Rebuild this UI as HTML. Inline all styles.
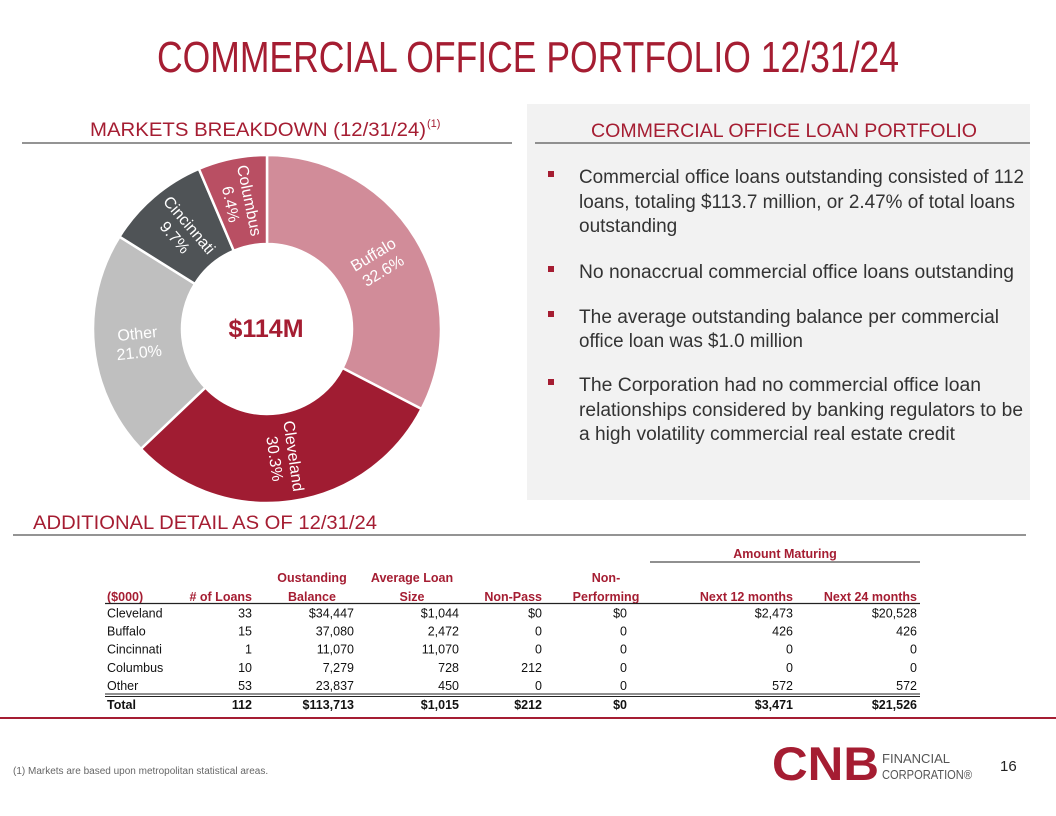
<!DOCTYPE html>
<html><head><meta charset="utf-8"><style>
html,body{margin:0;padding:0;background:#fff;}
svg{display:block;font-family:"Liberation Sans",sans-serif;}
</style></head><body>
<svg id="page" width="1056" height="816" viewBox="0 0 1056 816" xmlns="http://www.w3.org/2000/svg">
<text x="528" y="72" text-anchor="middle" font-size="44" fill="#a51d32" textLength="742" lengthAdjust="spacingAndGlyphs">COMMERCIAL OFFICE PORTFOLIO 12/31/24</text>

<rect x="527" y="104" width="503" height="396" fill="#f2f2f2"/>
<text x="90" y="136" font-size="19" fill="#a51d32" textLength="336" lengthAdjust="spacingAndGlyphs">MARKETS BREAKDOWN (12/31/24)</text>
<text x="427" y="127" font-size="11" fill="#a51d32">(1)</text>
<line x1="22" y1="143" x2="512" y2="143" stroke="#555" stroke-width="1.2"/>
<text x="591" y="137" font-size="19" fill="#a51d32" textLength="386" lengthAdjust="spacingAndGlyphs">COMMERCIAL OFFICE LOAN PORTFOLIO</text>
<line x1="535" y1="143" x2="1030" y2="143" stroke="#555" stroke-width="1.2"/>

<g font-size="19" fill="#333">
<rect x="548" y="171" width="6" height="6" fill="#a51d32"/>
<text x="579" y="183" textLength="445" lengthAdjust="spacingAndGlyphs">Commercial office loans outstanding consisted of 112</text>
<text x="579" y="208" textLength="436" lengthAdjust="spacingAndGlyphs">loans, totaling $113.7 million, or 2.47% of total loans</text>
<text x="579" y="232">outstanding</text>
<rect x="548" y="266" width="6" height="6" fill="#a51d32"/>
<text x="579" y="278" textLength="435" lengthAdjust="spacingAndGlyphs">No nonaccrual commercial office loans outstanding</text>
<rect x="548" y="311" width="6" height="6" fill="#a51d32"/>
<text x="579" y="323" textLength="420" lengthAdjust="spacingAndGlyphs">The average outstanding balance per commercial</text>
<text x="579" y="347" textLength="224" lengthAdjust="spacingAndGlyphs">office loan was $1.0 million</text>
<rect x="548" y="379" width="6" height="6" fill="#a51d32"/>
<text x="579" y="391" textLength="402" lengthAdjust="spacingAndGlyphs">The Corporation had no commercial office loan</text>
<text x="579" y="416" textLength="444" lengthAdjust="spacingAndGlyphs">relationships considered by banking regulators to be</text>
<text x="579" y="440" textLength="376" lengthAdjust="spacingAndGlyphs">a high volatility commercial real estate credit</text>
</g>

<g id="donut"></g>
<text x="266" y="337" text-anchor="middle" font-size="25" font-weight="bold" fill="#a51d32">$114M</text>

<text x="33" y="529" font-size="19" fill="#a51d32" textLength="344" lengthAdjust="spacingAndGlyphs">ADDITIONAL DETAIL AS OF 12/31/24</text>
<line x1="13" y1="535" x2="1026" y2="535" stroke="#555" stroke-width="1.2"/>

<g id="table" font-size="12.5"></g>

<line x1="0" y1="718" x2="1056" y2="718" stroke="#a51d32" stroke-width="2"/>
<text x="13" y="774" font-size="10" fill="#666">(1) Markets are based upon metropolitan statistical areas.</text>

<g>
<text x="772" y="780" font-size="47" font-weight="bold" fill="#a51d32" textLength="107" lengthAdjust="spacingAndGlyphs">CNB</text>
<text x="882" y="763" font-size="13" fill="#555" textLength="68" lengthAdjust="spacingAndGlyphs">FINANCIAL</text>
<text x="882" y="779" font-size="13" fill="#555" textLength="90" lengthAdjust="spacingAndGlyphs">CORPORATION®</text>
</g>
<text x="1000" y="771" font-size="15" fill="#222">16</text>
</svg>
<script>
const markets = ["Buffalo","Cleveland","Other","Cincinnati","Columbus"];
const shares = [32.6,30.3,21.0,9.7,6.4];
const sliceColors = ["#d18c99","#a01c32","#bfbfbf","#4f5356","#b94f63"];
const rowLabels = ["Cleveland","Buffalo","Cincinnati","Columbus","Other"];
const numLoans = ["33","15","1","10","53"];
const outBalance = ["$34,447","37,080","11,070","7,279","23,837"];
const avgSize = ["$1,044","2,472","11,070","728","450"];
const nonPass = ["$0","0","0","212","0"];
const nonPerf = ["$0","0","0","0","0"];
const next12 = ["$2,473","426","0","0","572"];
const next24 = ["$20,528","426","0","0","572"];
const totals = ["Total","112","$113,713","$1,015","$212","$0","$3,471","$21,526"];

const NS="http://www.w3.org/2000/svg";
function mk(t,a,p){const e=document.createElementNS(NS,t);for(const k in a)e.setAttribute(k,a[k]);p.appendChild(e);return e;}
const cx=267,cy=329,R=174,r=85;
const total=shares.reduce((a,b)=>a+b,0);
function pt(ang,rad){const a=(ang-90)*Math.PI/180;return [cx+rad*Math.cos(a),cy+rad*Math.sin(a)];}
const dg=document.getElementById('donut');
let acc=0;
shares.forEach((v,i)=>{
  const a0=acc/total*360, a1=(acc+v)/total*360; acc+=v;
  const large=(a1-a0)>180?1:0;
  const [x0,y0]=pt(a0,R),[x1,y1]=pt(a1,R),[x2,y2]=pt(a1,r),[x3,y3]=pt(a0,r);
  const p=mk('path',{d:`M${x0},${y0}A${R},${R} 0 ${large} 1 ${x1},${y1}L${x2},${y2}A${r},${r} 0 ${large} 0 ${x3},${y3}Z`,fill:sliceColors[i],stroke:'#fff','stroke-width':2.5},dg);
  
  
  const mid=(a0+a1)/2;let rot=mid-90;if(rot>90)rot-=180;
  const [lx,ly]=pt(mid,(R+r)/2);
  const t=mk('text',{transform:`translate(${lx},${ly}) rotate(${rot})`,'text-anchor':'middle',fill:'#fff','font-size':16},dg);
  
  
  mk('tspan',{x:0,y:-3},t).textContent=markets[i];
  mk('tspan',{x:0,y:16},t).textContent=v.toFixed(1)+'%';
});

const tg=document.getElementById('table');
const red="#a51d32";
function tx(x,y,s,anchor,opts){const t=mk('text',Object.assign({x:x,y:y,'text-anchor':anchor,fill:'#111'},opts||{}),tg);t.textContent=s;return t;}
let h=tx(785,558,'Amount Maturing','middle',{fill:red,'font-weight':'bold'});


mk('line',{x1:650,y1:562,x2:920,y2:562,stroke:'#222','stroke-width':1},tg);
const hb={fill:red,'font-weight':'bold'};
tx(312,582,'Oustanding','middle',hb);tx(412,582,'Average Loan','middle',hb);tx(606,582,'Non-','middle',hb);
tx(107,601,'($000)','start',hb);tx(252,601,'# of Loans','end',hb);tx(312,601,'Balance','middle',hb);
tx(412,601,'Size','middle',hb);tx(542,601,'Non-Pass','end',hb);tx(606,601,'Performing','middle',hb);
tx(793,601,'Next 12 months','end',hb);tx(917,601,'Next 24 months','end',hb);
mk('line',{x1:105,y1:603.5,x2:920,y2:603.5,stroke:'#222','stroke-width':1.2},tg);
const colsX=[252,354,459,542,627,793,917];
rowLabels.forEach((lab,i)=>{
  const y=617.5+i*18.1;
  const l=tx(107,y,lab,'start');
  
  
  [numLoans,outBalance,avgSize,nonPass,nonPerf,next12,next24].forEach((arr,j)=>tx(colsX[j],y,arr[i],'end'));
});
mk('line',{x1:105,y1:694,x2:920,y2:694,stroke:'#222','stroke-width':1},tg);
mk('line',{x1:105,y1:696.5,x2:920,y2:696.5,stroke:'#222','stroke-width':1},tg);
tx(107,709,totals[0],'start',{'font-weight':'bold'});
totals.slice(1).forEach((s,j)=>tx(colsX[j],709,s,'end',{'font-weight':'bold'}));
</script>
</body></html>
